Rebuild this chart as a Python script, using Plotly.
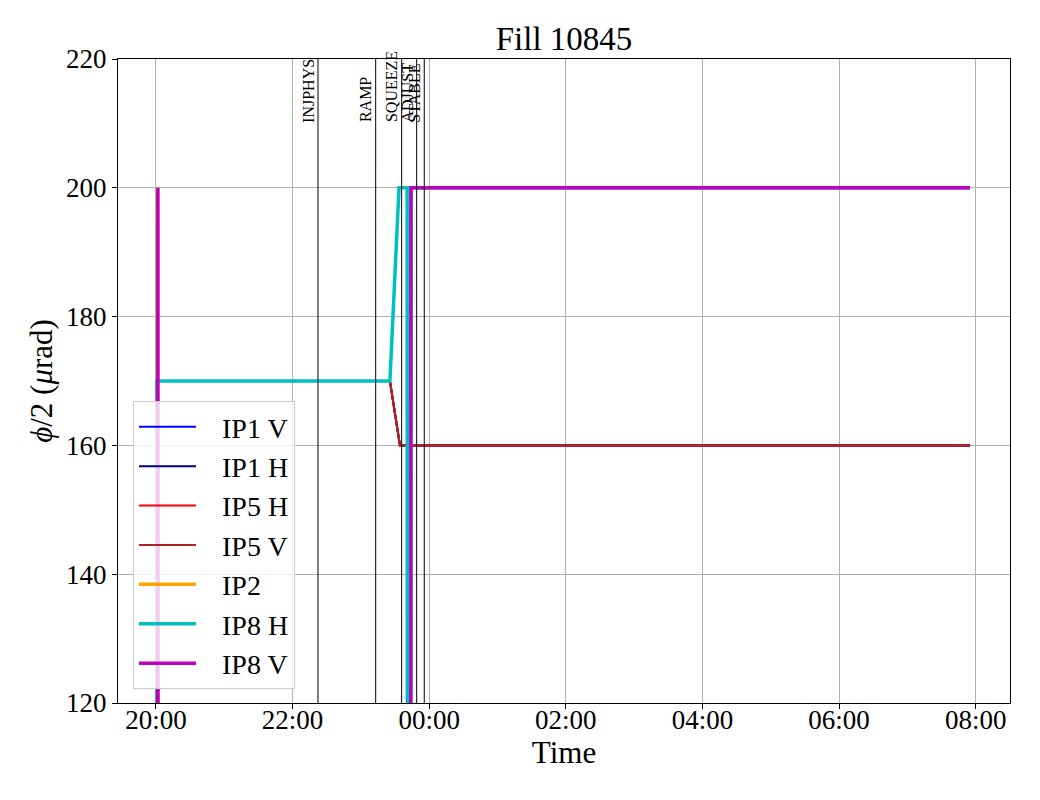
import datetime as dt
import plotly.graph_objects as go

DAY0 = dt.datetime(2025, 6, 14)

def ts(hms):
    h, m, s = (int(p) for p in hms.split(":"))
    d = DAY0 + dt.timedelta(hours=h, minutes=m, seconds=s)
    if h < 12:
        d += dt.timedelta(days=1)
    return d

# ---- data ----
ip1v_t = ["20:00:40", "20:00:50", "23:25:30", "23:34:20", "07:55:00"]
ip1v_v = [0, 170, 170, 160, 160]
ip1h_t = ["20:00:40", "20:00:50", "23:25:30", "23:34:20", "07:55:00"]
ip1h_v = [0, 170, 170, 160, 160]
ip5h_t = ["20:00:40", "20:00:50", "23:25:30", "23:34:20", "07:55:00"]
ip5h_v = [0, 170, 170, 160, 160]
ip5v_t = ["20:00:40", "20:00:50", "23:25:30", "23:34:20", "07:55:00"]
ip5v_v = [0, 170, 170, 160, 160]
ip2_t = ["20:01:00", "20:01:30", "20:01:50", "23:43:20", "23:43:40", "07:55:00"]
ip2_v = [0, 200, 0, 0, 200, 200]
ip8h_t = ["20:00:40", "20:01:00", "23:25:30", "23:33:30", "23:40:40", "23:41:00",
          "23:43:40", "23:44:00", "07:55:00"]
ip8h_v = [0, 170, 170, 200, 200, 0, 0, 200, 200]
ip8v_t = ["20:01:20", "20:01:40", "20:02:00", "23:43:40", "23:44:00", "07:55:00"]
ip8v_v = [0, 200, 0, 0, 200, 200]

mode_names = ["INJPHYS", "RAMP", "SQUEEZE", "ADJUST", "STABLE"]
mode_times = ["22:22:20", "23:13:00", "23:35:50", "23:49:00", "23:55:40"]

series = [
    ("IP1 V", ip1v_t, ip1v_v, "#0000ff", 2),
    ("IP1 H", ip1h_t, ip1h_v, "#000080", 2),
    ("IP5 H", ip5h_t, ip5h_v, "#ff0000", 2),
    ("IP5 V", ip5v_t, ip5v_v, "#b22222", 2),
    ("IP2", ip2_t, ip2_v, "#ffa500", 3.5),
    ("IP8 H", ip8h_t, ip8h_v, "#00bfbf", 3.5),
    ("IP8 V", ip8v_t, ip8v_v, "#bf00bf", 3.5),
]

FONT = "Liberation Serif, Times New Roman, serif"
PAD = "\u00a0\u00a0\u00a0"

fig = go.Figure()
for name, t, v, col, w in series:
    fig.add_trace(go.Scatter(x=[ts(s) for s in t], y=v, mode="lines", name=PAD + name,
                             line=dict(color=col, width=w)))

for name, t in zip(mode_names, mode_times):
    x = ts(t)
    fig.add_shape(type="line", xref="x", yref="paper", x0=x, x1=x, y0=0, y1=1,
                  line=dict(color="black", width=1))
    fig.add_annotation(x=x, y=210, xref="x", yref="y", text=name, textangle=-90,
                       xanchor="right", yanchor="bottom", showarrow=False,
                       font=dict(family=FONT, size=16, color="black"),
                       borderpad=0)

ticks = [ts(s) for s in ["20:00:00", "22:00:00", "00:00:00", "02:00:00",
                         "04:00:00", "06:00:00", "08:00:00"]]

fig.update_layout(
    width=1040, height=800,
    margin=dict(l=110, r=38, t=51, b=105),
    plot_bgcolor="white", paper_bgcolor="white",
    font=dict(family=FONT, size=26, color="black"),
    title=dict(text="Fill 10845", xref="paper", x=0.5, xanchor="center",
               yref="container", y=0.962, yanchor="middle",
               font=dict(family=FONT, size=33)),
    showlegend=True,
    legend=dict(x=0.0168, y=0.0217, xanchor="left", yanchor="bottom",
                bgcolor="rgba(255,255,255,0.8)", bordercolor="#cccccc",
                borderwidth=1, font=dict(family=FONT, size=28),
                itemwidth=57),
)
fig.update_xaxes(
    type="date",
    range=[ts("19:26:40"), ts("08:30:10")],
    tickvals=ticks, tickformat="%H:%M",
    tickfont=dict(family=FONT, size=27),
    ticklabelstandoff=-12,
    showgrid=True, gridcolor="#b0b0b0", gridwidth=0.8,
    showline=True, linecolor="black", linewidth=1, mirror=True,
    ticks="outside", ticklen=5, tickcolor="black",
    zeroline=False,
    title=dict(text="Time", font=dict(family=FONT, size=31), standoff=4),
)
fig.update_yaxes(
    range=[120, 220], tickvals=[120, 140, 160, 180, 200, 220],
    tickfont=dict(family=FONT, size=27),
    showgrid=True, gridcolor="#b0b0b0", gridwidth=0.8,
    showline=True, linecolor="black", linewidth=1, mirror=True,
    ticks="outside", ticklen=5, tickcolor="black",
    zeroline=False,
    title=dict(text="<i>ϕ</i>/2 (<i>μ</i>rad)", font=dict(family=FONT, size=31),
               standoff=4),
)

fig.write_html("out.html")
